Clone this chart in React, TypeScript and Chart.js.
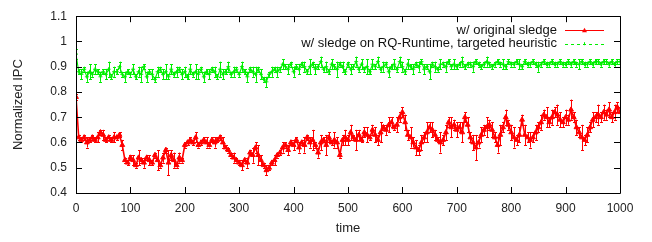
import React, { useEffect, useRef } from "react";
import { Chart, registerables } from "chart.js";

Chart.register(...registerables);

// time axis: 0..1000, one sample every 5 time units
const TIME_STEP = 5;
const X_MIN = 0;
const X_MAX = 1000;
const Y_MIN = 0.4;
const Y_MAX = 1.1;
const X_TICK_STEP = 100;
const Y_TICK_STEP = 0.1;

const SERIES_LABELS = [
  "w/ original sledge",
  "w/ sledge on RQ-Runtime, targeted heuristic",
];

const originalSledge = [
  0.78, 0.62, 0.61, 0.62, 0.60, 0.61, 0.62, 0.61, 0.62, 0.64, 0.63, 0.61, 0.62, 0.61, 0.62, 0.62, 0.63, 0.59, 0.53, 0.52,
  0.54, 0.53, 0.51, 0.54, 0.53, 0.52, 0.54, 0.53, 0.52, 0.55, 0.53, 0.51, 0.54, 0.57, 0.52, 0.55, 0.53, 0.51, 0.54, 0.53,
  0.59, 0.60, 0.61, 0.60, 0.62, 0.59, 0.60, 0.61, 0.60, 0.59, 0.61, 0.60, 0.61, 0.62, 0.60, 0.58, 0.57, 0.55, 0.54, 0.53,
  0.52, 0.51, 0.53, 0.52, 0.56, 0.55, 0.58, 0.55, 0.53, 0.51, 0.49, 0.50, 0.52, 0.53, 0.55, 0.56, 0.58, 0.59, 0.57, 0.60,
  0.59, 0.61, 0.58, 0.60, 0.59, 0.62, 0.60, 0.61, 0.59, 0.56, 0.60, 0.61, 0.59, 0.62, 0.60, 0.61, 0.60, 0.55, 0.61, 0.62,
  0.61, 0.64, 0.62, 0.61, 0.63, 0.61, 0.64, 0.63, 0.62, 0.65, 0.63, 0.61, 0.64, 0.66, 0.65, 0.67, 0.68, 0.66, 0.67, 0.70,
  0.72, 0.68, 0.63, 0.62, 0.60, 0.58, 0.57, 0.60, 0.62, 0.64, 0.66, 0.65, 0.63, 0.61, 0.60, 0.61, 0.64, 0.68, 0.66, 0.67,
  0.65, 0.66, 0.64, 0.70, 0.67, 0.62, 0.60, 0.58, 0.60, 0.63, 0.65, 0.66, 0.67, 0.65, 0.62, 0.59, 0.63, 0.66, 0.70, 0.67,
  0.64, 0.62, 0.61, 0.63, 0.69, 0.63, 0.62, 0.61, 0.62, 0.64, 0.66, 0.68, 0.71, 0.70, 0.68, 0.70, 0.72, 0.71, 0.69, 0.68,
  0.70, 0.69, 0.73, 0.70, 0.66, 0.64, 0.62, 0.61, 0.63, 0.66, 0.69, 0.70, 0.71, 0.70, 0.72,
  0.71, 0.73, 0.70, 0.72, 0.74, 0.72,
];

const originalSledgeErr = [
  0.01, 0.01, 0.01, 0.01, 0.02, 0.01, 0.01, 0.01, 0.02, 0.01, 0.02, 0.01, 0.01, 0.01, 0.02, 0.01, 0.01, 0.02, 0.01, 0.01,
  0.01, 0.02, 0.01, 0.03, 0.01, 0.02, 0.01, 0.02, 0.01, 0.01, 0.04, 0.01, 0.02, 0.01, 0.05, 0.02, 0.03, 0.01, 0.02, 0.01,
  0.01, 0.01, 0.01, 0.01, 0.02, 0.01, 0.01, 0.01, 0.02, 0.01, 0.01, 0.02, 0.01, 0.01, 0.02, 0.01, 0.01, 0.01, 0.02, 0.01,
  0.01, 0.02, 0.01, 0.02, 0.01, 0.03, 0.02, 0.04, 0.02, 0.01, 0.02, 0.01, 0.01, 0.02, 0.01, 0.01, 0.02, 0.01, 0.02, 0.01,
  0.02, 0.01, 0.02, 0.01, 0.03, 0.01, 0.02, 0.04, 0.01, 0.02, 0.03, 0.01, 0.04, 0.02, 0.01, 0.03, 0.02, 0.01, 0.02, 0.03,
  0.02, 0.03, 0.01, 0.04, 0.02, 0.01, 0.02, 0.03, 0.01, 0.02, 0.03, 0.02, 0.04, 0.01, 0.02, 0.03, 0.02, 0.01, 0.03, 0.02,
  0.02, 0.03, 0.02, 0.04, 0.02, 0.03, 0.02, 0.03, 0.02, 0.04, 0.02, 0.03, 0.02, 0.01, 0.04, 0.02, 0.03, 0.02, 0.04, 0.02,
  0.03, 0.02, 0.04, 0.02, 0.03, 0.02, 0.03, 0.05, 0.02, 0.03, 0.02, 0.04, 0.02, 0.03, 0.02, 0.03, 0.04, 0.02, 0.03, 0.02,
  0.03, 0.04, 0.02, 0.03, 0.02, 0.04, 0.02, 0.03, 0.02, 0.03, 0.02, 0.03, 0.02, 0.04, 0.02, 0.03, 0.02, 0.04, 0.03, 0.02,
  0.03, 0.02, 0.04, 0.02, 0.03, 0.02, 0.05, 0.02, 0.03, 0.02, 0.03, 0.02, 0.04, 0.02, 0.03, 0.02, 0.03, 0.02, 0.03, 0.02,
  0.02,
];

const rqRuntime = [
  0.95, 0.88, 0.87, 0.89, 0.86, 0.88, 0.87, 0.89, 0.88, 0.86, 0.88, 0.87, 0.89, 0.86, 0.88, 0.88, 0.90, 0.87, 0.86, 0.88,
  0.87, 0.89, 0.86, 0.88, 0.87, 0.90, 0.86, 0.88, 0.87, 0.85, 0.88, 0.89, 0.87, 0.88, 0.86, 0.89, 0.87, 0.88, 0.89, 0.87,
  0.88, 0.86, 0.89, 0.87, 0.88, 0.87, 0.89, 0.86, 0.88, 0.87, 0.89, 0.88, 0.86, 0.89, 0.87, 0.88, 0.90, 0.87, 0.88, 0.89,
  0.87, 0.90, 0.88, 0.86, 0.89, 0.88, 0.87, 0.89, 0.87, 0.85, 0.84, 0.87, 0.88, 0.89, 0.88, 0.89, 0.91, 0.90, 0.89, 0.91,
  0.88, 0.90, 0.89, 0.91, 0.90, 0.88, 0.90, 0.91, 0.89, 0.90, 0.92, 0.89, 0.90, 0.88, 0.91, 0.90, 0.89, 0.91, 0.90, 0.88,
  0.91, 0.89, 0.90, 0.92, 0.89, 0.91, 0.89, 0.90, 0.88, 0.91, 0.90, 0.92, 0.89, 0.90, 0.91, 0.88, 0.90, 0.91, 0.89, 0.92,
  0.90, 0.88, 0.91, 0.90, 0.89, 0.91, 0.90, 0.92, 0.89, 0.90, 0.88, 0.91, 0.90, 0.89, 0.91, 0.91, 0.90, 0.92, 0.90, 0.91,
  0.90, 0.91, 0.92, 0.90, 0.91, 0.91, 0.90, 0.92, 0.91, 0.90, 0.91, 0.92, 0.91, 0.90, 0.91, 0.92, 0.91, 0.91, 0.90, 0.92,
  0.91, 0.91, 0.92, 0.91, 0.90, 0.92, 0.91, 0.91, 0.92, 0.91, 0.90, 0.91, 0.92, 0.91, 0.91, 0.92, 0.91, 0.91, 0.92, 0.91,
  0.91, 0.92, 0.91, 0.92, 0.91, 0.91, 0.92, 0.91, 0.91, 0.92, 0.91, 0.92, 0.92, 0.91, 0.92,
  0.92, 0.91, 0.92, 0.91, 0.92, 0.92,
];

const rqRuntimeErr = [
  0.02, 0.01, 0.02, 0.01, 0.02, 0.03, 0.01, 0.02, 0.01, 0.02, 0.01, 0.02, 0.03, 0.01, 0.02, 0.01, 0.02, 0.01, 0.02, 0.01,
  0.01, 0.02, 0.01, 0.02, 0.03, 0.01, 0.02, 0.01, 0.02, 0.01, 0.02, 0.01, 0.02, 0.03, 0.01, 0.02, 0.01, 0.02, 0.01, 0.02,
  0.02, 0.01, 0.02, 0.01, 0.03, 0.02, 0.01, 0.02, 0.01, 0.02, 0.01, 0.02, 0.01, 0.03, 0.02, 0.01, 0.02, 0.01, 0.02, 0.01,
  0.01, 0.02, 0.01, 0.02, 0.01, 0.02, 0.03, 0.01, 0.02, 0.01, 0.02, 0.01, 0.02, 0.01, 0.02, 0.01, 0.02, 0.01, 0.02, 0.01,
  0.02, 0.01, 0.02, 0.01, 0.02, 0.01, 0.03, 0.01, 0.02, 0.01, 0.02, 0.01, 0.02, 0.01, 0.02, 0.01, 0.03, 0.01, 0.02, 0.01,
  0.01, 0.02, 0.01, 0.02, 0.01, 0.02, 0.01, 0.03, 0.01, 0.02, 0.01, 0.02, 0.01, 0.02, 0.01, 0.02, 0.01, 0.02, 0.01, 0.02,
  0.02, 0.01, 0.02, 0.01, 0.02, 0.01, 0.02, 0.01, 0.02, 0.01, 0.03, 0.01, 0.02, 0.01, 0.02, 0.01, 0.02, 0.01, 0.01, 0.02,
  0.01, 0.01, 0.02, 0.01, 0.01, 0.01, 0.02, 0.01, 0.01, 0.01, 0.01, 0.02, 0.01, 0.01, 0.01, 0.01, 0.01, 0.02, 0.01, 0.01,
  0.01, 0.01, 0.01, 0.02, 0.01, 0.01, 0.01, 0.01, 0.01, 0.01, 0.02, 0.01, 0.01, 0.01, 0.01, 0.01, 0.01, 0.01, 0.01, 0.01,
  0.01, 0.01, 0.01, 0.01, 0.01, 0.02, 0.01, 0.01, 0.01, 0.01, 0.01, 0.01, 0.01, 0.01, 0.01, 0.01, 0.01, 0.01, 0.01, 0.01,
  0.01,
];

const RED = "#ff0000";
const GREEN = "#00ee00";
const FONT = "'Liberation Sans', Arial, Helvetica, sans-serif";

const toPoints = (vals: number[]) => vals.map((y, i) => ({ x: i * TIME_STEP, y }));

const errorBarPlugin = {
  id: "errorBars",
  beforeDatasetsDraw(chart: any) {
    const { ctx, chartArea } = chart;
    const xs = chart.scales.x;
    const ys = chart.scales.y;
    ctx.save();
    ctx.beginPath();
    ctx.rect(chartArea.left, chartArea.top, chartArea.right - chartArea.left, chartArea.bottom - chartArea.top);
    ctx.clip();
    chart.data.datasets.forEach((ds: any) => {
      const errs: number[] = ds.errors || [];
      ctx.strokeStyle = ds.borderColor;
      ctx.lineWidth = 1;
      ctx.beginPath();
      ds.data.forEach((p: any, i: number) => {
        const e = errs[i] || 0;
        if (!e) return;
        const px = Math.round(xs.getPixelForValue(p.x)) + 0.5;
        const y1 = ys.getPixelForValue(p.y - e);
        const y2 = ys.getPixelForValue(p.y + e);
        ctx.moveTo(px, y1);
        ctx.lineTo(px, y2);
        ctx.moveTo(px - 1.5, Math.round(y1) + 0.5);
        ctx.lineTo(px + 1.5, Math.round(y1) + 0.5);
        ctx.moveTo(px - 1.5, Math.round(y2) + 0.5);
        ctx.lineTo(px + 1.5, Math.round(y2) + 0.5);
      });
      ctx.stroke();
    });
    ctx.restore();
  },
};

const framePlugin = {
  id: "gnuplotFrame",
  afterDatasetsDraw(chart: any) {
    const { ctx, chartArea } = chart;
    const { left, right, top, bottom } = chartArea;
    const xs = chart.scales.x;
    const ys = chart.scales.y;
    const tl = 6;
    ctx.save();
    ctx.strokeStyle = "#000";
    ctx.lineWidth = 1;
    ctx.beginPath();
    ctx.rect(Math.round(left) + 0.5, Math.round(top) + 0.5, Math.round(right - left), Math.round(bottom - top));
    ctx.stroke();
    ctx.beginPath();
    xs.ticks.forEach((t: any) => {
      const px = Math.round(xs.getPixelForValue(t.value)) + 0.5;
      ctx.moveTo(px, bottom);
      ctx.lineTo(px, bottom - tl);
      ctx.moveTo(px, top);
      ctx.lineTo(px, top + tl);
    });
    ys.ticks.forEach((t: any) => {
      const py = Math.round(ys.getPixelForValue(t.value)) + 0.5;
      ctx.moveTo(left, py);
      ctx.lineTo(left + tl, py);
      ctx.moveTo(right, py);
      ctx.lineTo(right - tl, py);
    });
    ctx.stroke();

    // gnuplot-style legend: right-aligned text with line sample to its right
    ctx.font = `13px ${FONT}`;
    ctx.textAlign = "right";
    ctx.textBaseline = "middle";
    chart.data.datasets.forEach((ds: any, i: number) => {
      const y = top + 14 + i * 13.5;
      ctx.fillStyle = "#111";
      ctx.fillText(ds.label, right - 63, y);
      const x0 = right - 55;
      const x1 = right - 16;
      ctx.strokeStyle = ds.borderColor;
      ctx.lineWidth = 1;
      ctx.setLineDash(i === 0 ? [] : [3, 3]);
      ctx.beginPath();
      ctx.moveTo(x0, Math.round(y) + 0.5);
      ctx.lineTo(x1, Math.round(y) + 0.5);
      ctx.stroke();
      ctx.setLineDash([]);
      const cx = (x0 + x1) / 2;
      ctx.fillStyle = ds.borderColor;
      ctx.beginPath();
      if (i === 0) {
        ctx.moveTo(cx, y - 2.5);
        ctx.lineTo(cx + 2.5, y + 2);
        ctx.lineTo(cx - 2.5, y + 2);
        ctx.closePath();
        ctx.fill();
      } else {
        ctx.moveTo(cx - 1.5, Math.round(y) + 0.5);
        ctx.lineTo(cx + 1.5, Math.round(y) + 0.5);
        ctx.moveTo(cx, y - 1.5);
        ctx.lineTo(cx, y + 1.5);
        ctx.stroke();
      }
    });
    ctx.restore();
  },
};

export default function App() {
  const ref = useRef<HTMLCanvasElement | null>(null);

  useEffect(() => {
    document.body.style.margin = "0";
    const canvas = ref.current;
    if (!canvas) return;
    const chart = new Chart(canvas, {
      type: "line",
      data: {
        datasets: [
          {
            label: SERIES_LABELS[0],
            data: toPoints(originalSledge),
            errors: originalSledgeErr,
            borderColor: RED,
            backgroundColor: RED,
            borderWidth: 1.6,
            pointStyle: "triangle",
            pointRadius: 2.8,
            pointBorderWidth: 1,
            pointBackgroundColor: RED,
            tension: 0,
          } as any,
          {
            label: SERIES_LABELS[1],
            data: toPoints(rqRuntime),
            errors: rqRuntimeErr,
            borderColor: GREEN,
            backgroundColor: GREEN,
            borderWidth: 1.1,
            pointStyle: "cross",
            pointRadius: 2,
            pointBorderWidth: 1,
            tension: 0,
          } as any,
        ],
      },
      options: {
        animation: false,
        responsive: false,
        maintainAspectRatio: false,
        events: [],
        layout: { padding: { top: 6, right: 32, left: 0, bottom: 0 } },
        plugins: {
          legend: { display: false },
          tooltip: { enabled: false },
        },
        scales: {
          x: {
            type: "linear",
            min: X_MIN,
            max: X_MAX,
            grid: { display: false, drawTicks: false },
            border: { display: false },
            ticks: {
              stepSize: X_TICK_STEP,
              padding: 8,
              color: "#222",
              font: { family: FONT, size: 12 },
              maxRotation: 0,
              callback: (v: any) => String(v),
            },
            title: {
              display: true,
              text: "time",
              color: "#222",
              font: { family: FONT, size: 13 },
              padding: { top: 0, bottom: 6 },
            },
            afterFit: (s: any) => {
              s.height = 49;
            },
          },
          y: {
            min: Y_MIN,
            max: Y_MAX,
            grid: { display: false, drawTicks: false },
            border: { display: false },
            ticks: {
              stepSize: Y_TICK_STEP,
              padding: 9,
              color: "#222",
              font: { family: FONT, size: 12 },
              callback: (v: any) => String(Number(Number(v).toFixed(1))),
            },
            title: {
              display: true,
              text: "Normalized IPC",
              color: "#222",
              font: { family: FONT, size: 13 },
              padding: { top: 11, bottom: 0 },
            },
            afterFit: (s: any) => {
              s.width = 76;
            },
          },
        },
      },
      plugins: [errorBarPlugin, framePlugin],
    });
    return () => chart.destroy();
  }, []);

  return (
    <div style={{ width: 652, height: 242 }}>
      <canvas ref={ref} width={652} height={242} style={{ width: 652, height: 242, display: "block" }} />
    </div>
  );
}
